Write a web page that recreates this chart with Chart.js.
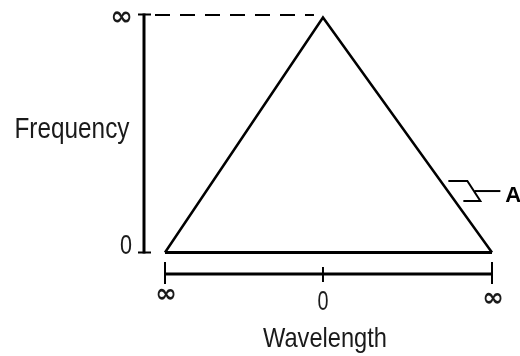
<!DOCTYPE html>
<html>
<head>
<meta charset="utf-8">
<script src="https://cdn.jsdelivr.net/npm/chart.js@4.4.1/dist/chart.umd.min.js"></script>
<style>
  html, body { margin: 0; padding: 0; background: #fff; }
  #wrap { width: 520px; height: 356px; }
</style>
</head>
<body>
<div id="wrap"><canvas id="c" width="520" height="356"></canvas></div>
<script>
// wavelength axis: ∞ ... 0 ... ∞  (right end sits a bit further out in the original)
const wavelengthTicks = [-1, 0, 1.07];
const wavelengthLabels = ['∞', '0', '∞'];
// frequency axis
const frequencyTicks = [0, 1];
const frequencyLabels = ['0', '∞'];
// triangle (wavelength, frequency)
const curveX = [-1, 0, 1.07];
const curveY = [0, 1, 0];
// callout on the right side
const calloutLabel = 'A';
const calloutFreq = 0.27;

const INK = '#000';
const TEXT = '#1a1a1a';
const TEXT_FONT = '"Liberation Sans", Arial, sans-serif';
const SYM_FONT = '"DejaVu Sans", sans-serif';

const points = curveX.map((x, i) => ({ x, y: curveY[i] }));
const base = [points[0], points[points.length - 1]];

function seg(ctx, x1, y1, x2, y2, w) {
  ctx.lineWidth = w;
  ctx.beginPath();
  ctx.moveTo(x1, y1);
  ctx.lineTo(x2, y2);
  ctx.stroke();
}

function txt(ctx, s, x, y, font, align, baseline, maxW) {
  ctx.font = font;
  ctx.textAlign = align;
  ctx.textBaseline = baseline;
  if (maxW) ctx.fillText(s, x, y, maxW); else ctx.fillText(s, x, y);
}

const sketchAxes = {
  id: 'sketchAxes',
  afterDatasetsDraw(chart) {
    const { ctx } = chart;
    const xs = chart.scales.x, ys = chart.scales.y;
    const px = v => xs.getPixelForValue(v);
    const py = v => ys.getPixelForValue(v);
    const left = px(wavelengthTicks[0]);
    const right = px(wavelengthTicks[wavelengthTicks.length - 1]);
    const mid = px(0);
    const y0 = py(0), yTop = py(1);

    ctx.save();
    ctx.strokeStyle = INK;
    ctx.fillStyle = TEXT;
    ctx.lineCap = 'butt';

    // frequency axis (vertical)
    const ax = left - 21;
    const axTop = yTop - 3;
    seg(ctx, ax, axTop - 1, ax, y0 + 1, 3);
    frequencyTicks.forEach((v, i) => {
      const ty = v === 1 ? axTop : py(v);
      seg(ctx, ax - 6, ty, ax + 7, ty, 2);
      const lab = frequencyLabels[i];
      if (lab === '∞') {
        txt(ctx, lab, ax - 11, ty + 3, 'bold 27px ' + SYM_FONT, 'right', 'middle');
      } else {
        txt(ctx, lab, ax - 12, ty + 1, '28px ' + TEXT_FONT, 'right', 'alphabetic', 12);
      }
    });

    // dashed guide from the axis to the apex
    ctx.setLineDash([15, 10]);
    seg(ctx, ax + 11, axTop + 0.5, mid - 9, axTop + 0.5, 2);
    ctx.setLineDash([]);

    // wavelength axis (horizontal)
    const hy = y0 + 21.5;
    seg(ctx, left, hy, right, hy, 3);
    wavelengthTicks.forEach((v, i) => {
      const tx = px(v);
      const end = i === 0 || i === wavelengthTicks.length - 1;
      seg(ctx, tx, hy - (end ? 12 : 7), tx, hy + (end ? 10 : 8), 2);
      const lab = wavelengthLabels[i];
      if (lab === '∞') {
        txt(ctx, lab, tx + 1, hy + (i === 0 ? 21 : 25), 'bold 26px ' + SYM_FONT, 'center', 'middle');
      } else {
        txt(ctx, lab, tx, hy + 36, '27px ' + TEXT_FONT, 'center', 'alphabetic', 11);
      }
    });

    // axis titles
    txt(ctx, 'Wavelength', mid + 2, hy + 73, '28px ' + TEXT_FONT, 'center', 'alphabetic', 124);
    txt(ctx, 'Frequency', ax - 72, (yTop + y0) / 2 + 3, '29px ' + TEXT_FONT, 'center', 'alphabetic', 115);

    // callout bracket pointing at the right edge
    const cy = py(calloutFreq);
    const cx = mid + (right - mid) * (1 - calloutFreq);
    ctx.lineWidth = 2;
    ctx.beginPath();
    ctx.moveTo(cx + 2, cy - 8);
    ctx.lineTo(cx + 21, cy - 8);
    ctx.lineTo(cx + 34, cy + 12);
    ctx.lineTo(cx + 17, cy + 12);
    ctx.stroke();
    seg(ctx, cx + 28, cy + 2, cx + 54, cy + 2, 2);
    ctx.fillStyle = INK;
    txt(ctx, calloutLabel, cx + 59, cy + 13, 'bold 22px ' + TEXT_FONT, 'left', 'alphabetic');

    ctx.restore();
  }
};

new Chart(document.getElementById('c').getContext('2d'), {
  type: 'scatter',
  data: {
    datasets: [
      { data: points, showLine: true, borderColor: INK, borderWidth: 2.5, pointRadius: 0, clip: false, tension: 0 },
      { data: base, showLine: true, borderColor: INK, borderWidth: 3, pointRadius: 0, clip: false },
    ],
  },
  options: {
    responsive: false,
    animation: false,
    devicePixelRatio: 1,
    layout: { padding: { left: 165, right: 28, top: 17.5, bottom: 103.5 } },
    plugins: { legend: { display: false }, tooltip: { enabled: false } },
    scales: {
      x: { type: 'linear', display: false, min: wavelengthTicks[0], max: wavelengthTicks[wavelengthTicks.length - 1] },
      y: { type: 'linear', display: false, min: 0, max: 1 },
    },
  },
  plugins: [sketchAxes],
});
</script>
</body>
</html>
